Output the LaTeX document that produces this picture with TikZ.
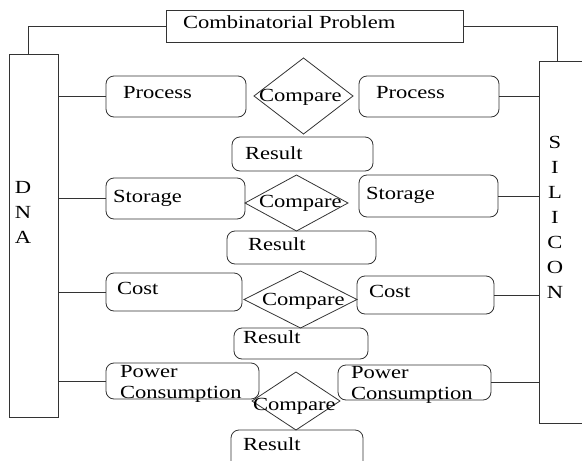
\documentclass[tikz,border=0pt]{standalone}
\usepackage{fontspec}
\setmainfont{Liberation Serif}[FakeStretch=1.22]
\usetikzlibrary{shapes.geometric}
\begin{document}
\begin{tikzpicture}[x=1pt,y=-1pt,
  line width=0.8pt,
  every node/.style={inner sep=0pt,outer sep=0pt},
  sharpbox/.style={draw=black!80,rectangle},
  rbox/.style={draw=black!80,rectangle,rounded corners=8pt},
  cmpbox/.style={draw=black!80,diamond},
  txt/.style={anchor=base west,font=\fontsize{18.5}{21}\selectfont},
  letter/.style={anchor=base,font=\fontsize{18.5}{21}\selectfont},
  conn/.style={draw=black!80}]
\useasboundingbox (0,0) rectangle (582,461);
% main boxes
\node[sharpbox,minimum width=297pt,minimum height=32pt] (cp) at (314.5,26) {};
\node[sharpbox,minimum width=49pt,minimum height=363pt] (dna) at (33.5,235.5) {};
\node[sharpbox,minimum width=81pt,minimum height=362pt] (sil) at (579.5,242) {};
\coordinate (dnaj) at (28,54);
\coordinate (silj) at (557,61);
% row 1
\node[rbox,minimum width=140pt,minimum height=41pt] (pl) at (176,96.5) {};
\node[rbox,minimum width=140pt,minimum height=41pt] (pr) at (429,96.5) {};
\node[cmpbox,minimum width=99pt,minimum height=76pt] (d1) at (303.5,96) {};
\node[rbox,minimum width=141pt,minimum height=34pt] (r1) at (302.5,154) {};
% row 2
\node[rbox,minimum width=139pt,minimum height=41pt] (sl) at (175.5,198.5) {};
\node[rbox,minimum width=139pt,minimum height=42pt] (sr) at (428.5,196) {};
\node[cmpbox,minimum width=103pt,minimum height=56pt] (d2) at (296.5,203) {};
\node[rbox,minimum width=149pt,minimum height=33pt] (r2) at (301.5,247.5) {};
% row 3
\node[rbox,minimum width=136pt,minimum height=38pt] (cl) at (174,292) {};
\node[rbox,minimum width=137pt,minimum height=38pt] (cr) at (425.5,295) {};
\node[cmpbox,minimum width=113pt,minimum height=57pt] (d3) at (300.5,299.5) {};
\node[rbox,minimum width=134pt,minimum height=31pt] (r3) at (301,343.5) {};
% row 4
\node[rbox,minimum width=153pt,minimum height=36pt] (wl) at (182.5,381) {};
\node[rbox,minimum width=153pt,minimum height=35pt] (wr) at (414.5,382.5) {};
\node[cmpbox,minimum width=88pt,minimum height=58pt] (d4) at (296,401) {};
\node[rbox,minimum width=132pt,minimum height=45pt] (r4) at (297,452.5) {};
% connectors
\draw[conn] (cp.west) -| (dnaj);
\draw[conn] (cp.east) -| (silj);
\draw[conn] (dna.east |- pl.west) -- (pl.west);
\draw[conn] (pr.east) -- (sil.west |- pr.east);
\draw[conn] (dna.east |- sl.west) -- (sl.west);
\draw[conn] (sr.east) -- (sil.west |- sr.east);
\draw[conn] (dna.east |- cl.west) -- (cl.west);
\draw[conn] (cr.east) -- (sil.west |- cr.east);
\draw[conn] (dna.east |- wl.west) -- (wl.west);
\draw[conn] (wr.east) -- (sil.west |- wr.east);
% texts
\node[txt] (tcp) at (183,28) {Combinatorial Problem};
\node[txt] (tpl) at (123,98) {Process};
\node[txt] (tpr) at (376,98) {Process};
\node[txt] (tc1) at (259,101) {Compare};
\node[txt] (tr1) at (245,159) {Result};
\node[txt] (tsl) at (113,202) {Storage};
\node[txt] (tsr) at (366,199) {Storage};
\node[txt] (tc2) at (259,207) {Compare};
\node[txt] (tr2) at (248,250) {Result};
\node[txt] (tcl) at (117,294) {Cost};
\node[txt] (tcr) at (369,297) {Cost};
\node[txt] (tc3) at (262,305) {Compare};
\node[txt] (tr3) at (243,343) {Result};
\node[txt] (twl1) at (120,377) {Power};
\node[txt] (twl2) at (120,398) {Consumption};
\node[txt] (twr1) at (351,378) {Power};
\node[txt] (twr2) at (351,399) {Consumption};
\node[txt] (tc4) at (253,410) {Compare};
\node[txt] (tr4) at (243,450) {Result};
% DNA letters
\node[letter] (dD) at (23,193) {D};
\node[letter] (dN) at (23,218) {N};
\node[letter] (dA) at (23,243) {A};
% SILICON letters
\node[letter] (s1) at (555,148) {S};
\node[letter] (s2) at (555,173) {I};
\node[letter] (s3) at (555,198) {L};
\node[letter] (s4) at (555,223) {I};
\node[letter] (s5) at (555,248) {C};
\node[letter] (s6) at (555,273) {O};
\node[letter] (s7) at (555,298) {N};
\end{tikzpicture}
\end{document}
